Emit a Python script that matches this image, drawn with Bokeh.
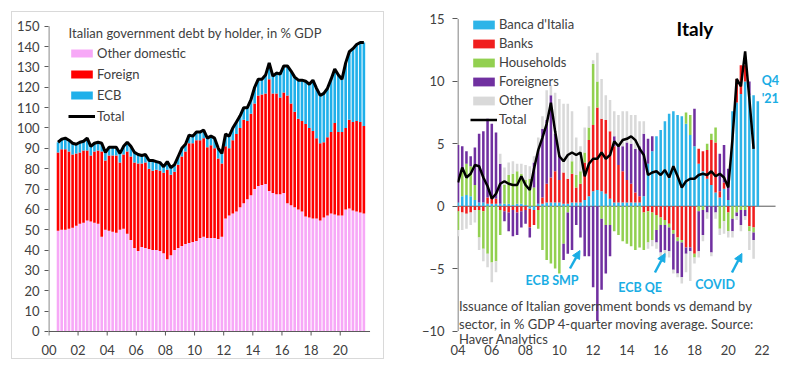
from bokeh.plotting import figure
from bokeh.layouts import row
from bokeh.models import (ColumnDataSource, Legend, LegendItem, Label,
                          Arrow, NormalHead, FixedTicker, Range1d)
from bokeh.embed import file_html
from bokeh.resources import INLINE

FONT = "Lato"
TXT = "#404040"
AX = "#595959"

# ---------------- Left chart data: debt by holder, % GDP (quarterly, 2000Q3..2021Q3)
left_first_quarter = (2000, 3)
other_domestic = [49.5, 50, 50, 50.5, 51, 52, 53, 53.5, 54.5, 54,
                  53.5, 53, 46.5, 50, 49.5, 49, 48.5, 50, 50.5, 48,
                  45, 41, 39.5, 41.5, 41, 40.5, 40, 40, 39.5, 38.5,
                  35.5, 37.5, 40, 41, 42, 43, 43.5, 44, 44.5, 46,
                  46.5, 46, 46, 46, 45.5, 46.5, 55.5, 57, 58, 59,
                  61, 63, 65, 67, 70, 71.5, 72, 72.5, 69, 68,
                  67.5, 67.5, 68, 63, 62, 61, 60, 59, 56.5, 56,
                  55.5, 55.5, 54.5, 56, 57, 58, 57.5, 57, 57, 60,
                  60.5, 59.5, 59, 58.5, 58]
foreign = [38.5, 39.5, 39.5, 38, 36, 35.5, 35, 35.5, 34.5, 32.5,
           35, 36, 42, 34, 37, 37.5, 38, 33, 36.5, 40.5,
           41, 42, 43, 41, 42, 39.5, 39, 39.5, 39.5, 39.5,
           44, 39.5, 38.5, 41, 44, 45.5, 49, 48.5, 49.5, 48,
           48.5, 44.5, 45.5, 44, 39.5, 36, 35.5, 33, 36, 38,
           39, 41, 38.5, 40, 42, 44.5, 44.5, 44.5, 55, 49,
           49.5, 47.5, 49.5, 53, 50, 47, 44.5, 44.5, 45.5, 44,
           43, 39.5, 38, 37, 38.5, 40, 45, 41, 41, 40,
           43.5, 43.5, 44.5, 44.5, 43]
ecb = [5, 5, 5.5, 5.5, 5.5, 4.5, 5, 4.5, 6, 4.5,
       4, 4, 4, 4, 4, 4, 4, 4.5, 4, 4.5,
       5, 5, 4.5, 4, 4, 4, 5, 4, 4, 3,
       4, 3.5, 3.5, 4, 4, 3.5, 4, 3.5, 4, 4,
       4, 4.5, 4.5, 5, 5, 5, 6, 6, 6, 6,
       6, 6, 6.5, 7, 8, 8, 7.5, 9, 8, 8.5,
       10, 11.5, 13, 14.5, 16, 17, 19, 20, 21, 21.5,
       25, 24.5, 23.5, 24, 24, 26, 26.5, 28, 26, 32,
       33.5, 36, 37.5, 39, 41]
left_xticks = list(range(0, 21, 2))
left_yticks = list(range(0, 151, 10))

# ---------------- Right chart data: issuance vs demand by sector (2004Q1..2021Q4)
right_first_quarter = (2004, 1)
banca_italia = [0.3, 0.8, 0.9, 0.8, 0.5, 0.3, 0.3, 0.2, 0.2, 0.2,
                0.2, 0.2, 0.2, 0.1, 0.2, 0.2, 0.1, -0.2, -0.3, 0.2,
                0.2, 0.3, 0.3, 0.3, 0.3, 0.2, 0.2, 0.3, 0.3, 0.3,
                0.5, 0.8, 1.2, 1.3, 1.2, 1.0, 0.6, 0.3, 0.3, 0.3,
                0.3, 0.3, 0.3, 0.3, 0.8, 3.4, 4.4, 5.6, 6.1, 6.8,
                7.4, 7.6, 7.3, 7.2, 6.6, 5.7, 4.8, 3.4, 2.8, 2.2,
                1.7, 1.1, 0.7, 1.4, 0.5, 7.6, 8.3, 9.0, 10.0, 8.9,
                8.9, 8.4]
banks = [-0.4, -0.5, -0.6, -0.5, -0.3, -0.3, -0.4, 0.5, 0.6, 0.4,
         -0.3, -0.4, -0.5, -0.3, -0.5, -0.4, -0.3, -1.5, -1.2, -0.3,
         0.5, 1.5, 2.0, 2.5, 1.8, 2.5, 2.0, 2.3, 1.2, 1.5,
         3.0, 4.5, 5.3, 6.6, 5.8, 5.9, 5.4, 4.5, 3.0, 2.5,
         1.8, 1.5, 0.8, 0.5, -0.5, -0.4, -0.5, -0.7, -0.9, -1.1,
         -1.4, -1.9, -2.5, -2.7, -3.3, -3.3, -3.8, 1.2, 1.6, 2.3,
         3.6, 4.0, 0.5, 0.5, -0.5, 0.0, 1.9, 2.3, 1.3, -1.6,
         -1.7, 0.0]
households = [-1.5, 2.0, 2.5, 2.4, 1.2, -2.2, -3.0, -3.8, -4.5, -4.4,
              -2.0, 1.5, 2.3, 2.5, 2.6, 2.4, 2.0, 2.2, 1.5, -1.5,
              -3.5, -4.3, -4.6, -5.0, -5.4, -3.0, -0.5, 1.0, 1.0, 1.0,
              0.8, 1.0, 4.9, 2.1, -1.0, -1.5, -1.5, -2.0, -2.3, -2.8,
              -3.0, -3.2, -3.5, -3.3, -3.0, -2.5, -2.2, -1.2, -0.6, -0.4,
              -0.3, -0.3, -0.3, -0.2, 0.9, 1.6, -0.3, -0.4, -0.3, 0.5,
              0.5, 1.2, -1.8, -1.2, -1.5, -1.0, -0.5, -0.3, -0.3, -0.4,
              -0.4, 0.0]
foreigners = [4.6, 2.0, 1.0, 0.8, 3.0, 5.5, 5.7, 6.3, 5.8, 5.3,
              3.2, -0.8, -1.5, -2.1, -1.8, -1.3, -1.1, -0.8, 2.0, 4.3,
              5.5, 5.1, 6.6, 3.0, 2.0, -1.3, -3.3, -3.5, -1.5, -2.5,
              -4.0, -4.0, -6.5, -9.2, -5.7, -3.9, -2.5, 0.8, 1.5, 2.0,
              3.0, 3.2, 3.5, 4.0, 5.0, 2.0, 1.2, -1.0, -2.2, -2.0,
              -1.9, -2.9, -2.6, -2.8, -0.5, -0.3, 3.0, -3.2, -2.0, -0.5,
              -3.7, -0.5, 3.0, 3.0, 2.5, -1.0, -0.3, -1.2, -0.5, 1.1,
              -0.6, 0.0]
other = [-0.5, -1.4, -1.2, -1.0, -1.0, -1.0, -1.0, -1.1, -1.6, -0.9,
         0.8, 1.4, 1.0, 1.0, 0.6, 0.8, 1.2, 1.0, 0.5, 1.0,
         1.0, 2.4, 0.8, 3.3, 4.5, 5.5, 6.0, 4.0, 3.0, 2.0,
         2.0, 1.7, 0.3, 2.3, 3.2, 2.0, 2.5, 2.0, 2.5, 2.8,
         2.5, 2.3, 2.7, 2.0, 1.0, -0.5, -0.5, -0.5, -0.5, -0.6,
         -0.5, -0.3, -0.3, -0.5, -1.5, -2.4, -0.5, -0.5, -0.5, -0.5,
         -0.3, -0.5, -0.5, -1.0, -0.5, -0.5, -0.3, -0.5, -0.3, -1.5,
         -1.5, 0.0]
total_issuance = [1.9, 3.1, 2.3, 2.6, 3.3, 3.2, 2.3, 1.6, 0.6, 1.0,
                  1.8, 2.0, 1.8, 1.7, 1.7, 2.4, 1.7, 1.3, 3.0, 4.5,
                  5.5, 6.6, 8.3, 6.0, 4.0, 3.6, 4.1, 4.3, 4.1, 4.3,
                  2.4, 3.4, 3.8, 3.8, 4.3, 3.8, 4.1, 5.2, 4.8, 5.3,
                  5.4, 5.6, 5.3, 4.6, 4.1, 2.5, 2.7, 2.8, 2.5, 2.9,
                  2.3, 3.2, 2.4, 1.5, 2.0, 2.2, 2.2, 2.5, 2.6, 2.5,
                  2.8, 2.4, 2.6, 2.3, 1.5, 5.4, 10.2, 9.6, 12.4, 8.6,
                  4.6, float("nan")]
right_xticks = list(range(4, 23, 2))
right_yticks = [-10, -5, 0, 5, 10, 15]

# ---------------- colours
PINK, RED, BLUE = "#F7A8F7", "#FF0000", "#1FB0EA"
R_BLUE, R_RED, R_GREEN, R_PURPLE, R_GREY = "#2DB4E8", "#F01E1E", "#92D050", "#7030A0", "#D9D9D9"
ANN = "#1AADE4"

H = 370            # both figures share the same height and border sizes
TOP, BOTTOM = 17, 26


def quarter_positions(first, n, offset):
    y, q = first
    out = []
    for _ in range(n):
        out.append((y - 2000) + (q - offset) / 4.0)
        q += 1
        if q > 4:
            q, y = 1, y + 1
    return out


def style_axes(p):
    for ax in (p.xaxis[0], p.yaxis[0]):
        ax.axis_line_color = None
        ax.major_tick_line_color = AX
        ax.minor_tick_line_color = None
        ax.major_tick_in = 0
        ax.major_label_text_font = FONT
        ax.major_label_text_font_size = "13px"
        ax.major_label_text_color = TXT
    p.xaxis.major_tick_line_color = None
    p.xaxis.major_tick_out = 0
    p.xaxis.major_label_standoff = 0
    p.xgrid.visible = False
    p.ygrid.visible = False
    p.outline_line_color = None
    p.background_fill_alpha = 0
    p.border_fill_alpha = 0


# ================= LEFT
lx = quarter_positions(left_first_quarter, len(other_domestic), 0.5)
ltotal = [a + b + c for a, b, c in zip(other_domestic, foreign, ecb)]
lsrc = ColumnDataSource(dict(x=lx, other=other_domestic, foreign=foreign, ecb=ecb, total=ltotal))

p1 = figure(width=395, height=H, x_range=Range1d(-0.03, 22.08), y_range=Range1d(-6.39, 154.3),
            output_backend="svg", toolbar_location=None,
            min_border_left=48, min_border_right=25, min_border_top=TOP, min_border_bottom=BOTTOM)
p1.styles = {"outline": "1px solid #D9D9D9", "outline-offset": "-12px"}
style_axes(p1)
p1.xaxis.ticker = FixedTicker(ticks=left_xticks)
p1.xaxis.major_label_overrides = {t: f"{t:02d}" for t in left_xticks}
p1.yaxis.ticker = FixedTicker(ticks=left_yticks)
p1.yaxis.major_tick_out = 4
p1.yaxis.major_label_standoff = 5

rs = p1.vbar_stack(["other", "foreign", "ecb"], x="x", width=0.18, color=[PINK, RED, BLUE],
                   line_color=None, source=lsrc)
rl = p1.line("x", "total", source=lsrc, line_color="black", line_width=3)
# axis lines (y: 0..150 ; x along zero) and x tick marks
p1.segment(x0=[0, 0], y0=[0, 0], x1=[0, 22.05], y1=[150, 0], line_color=AX, line_width=1)
p1.segment(x0=left_xticks, y0=[0] * len(left_xticks), x1=left_xticks,
           y1=[-1.97] * len(left_xticks), line_color=AX, line_width=1)

p1.add_layout(Label(x=1.35, y=146.9, text="Italian government debt by holder, in % GDP",
                    text_font=FONT, text_font_size="13px", text_color=TXT,
                    text_baseline="middle"))
leg1 = Legend(items=[LegendItem(label="Other domestic", renderers=[rs[0]]),
                     LegendItem(label="Foreign", renderers=[rs[1]]),
                     LegendItem(label="ECB", renderers=[rs[2]]),
                     LegendItem(label="Total", renderers=[rl])],
              location=(20, 220), background_fill_alpha=0, border_line_color=None,
              label_text_font=FONT, label_text_font_size="13px", label_text_color=TXT,
              glyph_width=27, glyph_height=10, label_height=15, spacing=5,
              padding=0, margin=0, label_standoff=2)
p1.add_layout(leg1)

# ================= RIGHT
rx = quarter_positions(right_first_quarter, len(banca_italia), 1.0)
series = [("bdi", banca_italia), ("banks", banks), ("hh", households),
          ("forn", foreigners), ("oth", other)]
cols = dict(x=rx, total=total_issuance)
pos = [0.0] * len(rx)
neg = [0.0] * len(rx)
for name, vals in series:
    b, t = [], []
    for j, v in enumerate(vals):
        if v >= 0:
            b.append(pos[j]); t.append(pos[j] + v); pos[j] += v
        else:
            t.append(neg[j]); b.append(neg[j] + v); neg[j] += v
    cols[name + "_b"] = b
    cols[name + "_t"] = t
rsrc = ColumnDataSource(cols)

p2 = figure(width=405, height=H, x_range=Range1d(3.97, 23.33), y_range=Range1d(-11.08, 15.12),
            output_backend="svg", toolbar_location=None,
            min_border_left=62, min_border_right=16, min_border_top=TOP, min_border_bottom=BOTTOM)
style_axes(p2)
p2.xaxis.ticker = FixedTicker(ticks=right_xticks)
p2.xaxis.major_label_overrides = {t: f"{t:02d}" for t in right_xticks}
p2.yaxis.ticker = FixedTicker(ticks=right_yticks)
p2.yaxis.major_tick_out = 5
p2.yaxis.major_label_standoff = 8
p2.segment(x0=[4, 3.97], y0=[-10, 0], x1=[4, 22.8], y1=[15, 0], line_color=AX, line_width=1)

colors = [R_BLUE, R_RED, R_GREEN, R_PURPLE, R_GREY]
rr = []
for (name, _), c in zip(series, colors):
    rr.append(p2.vbar(x="x", bottom=name + "_b", top=name + "_t", width=0.15,
                      fill_color=c, line_color=None, source=rsrc))
rt = p2.line("x", "total", source=rsrc, line_color="black", line_width=2.5)

leg2 = Legend(items=[LegendItem(label="Banca d'Italia", renderers=[rr[0]]),
                     LegendItem(label="Banks", renderers=[rr[1]]),
                     LegendItem(label="Households", renderers=[rr[2]]),
                     LegendItem(label="Foreigners", renderers=[rr[3]]),
                     LegendItem(label="Other", renderers=[rr[4]]),
                     LegendItem(label="Total", renderers=[rt])],
              location=(13, 217), background_fill_alpha=0, border_line_color=None,
              label_text_font=FONT, label_text_font_size="13px", label_text_color=TXT,
              glyph_width=27, glyph_height=11, label_height=14, spacing=3,
              padding=0, margin=0, label_standoff=2)
p2.add_layout(leg2)

p2.add_layout(Label(x=18.03, y=14.24, text="Italy", text_font=FONT, text_font_size="19px",
                    text_font_style="bold", text_color="black", text_align="center",
                    text_baseline="middle"))
for txt, yy in (("Q4", 10.07), ("'21", 8.63)):
    p2.add_layout(Label(x=21.98, y=yy, text=txt, text_font=FONT, text_font_size="12.5px",
                        text_font_style="bold", text_color=ANN, text_baseline="middle"))
for txt, xx, yy in (("ECB SMP", 9.57, -5.96), ("ECB QE", 14.78, -6.5), ("COVID", 19.22, -6.27)):
    p2.add_layout(Label(x=xx, y=yy, text=txt, text_font=FONT, text_font_size="12.5px",
                        text_font_style="bold", text_color=ANN, text_align="center",
                        text_baseline="middle"))
for xs, ys, xe, ye in ((10.63, -4.99, 11.22, -3.55), (15.66, -5.31, 16.26, -3.79),
                       (20.22, -5.31, 20.81, -3.79)):
    p2.add_layout(Arrow(end=NormalHead(size=8, fill_color=ANN, line_color=ANN),
                        x_start=xs, y_start=ys, x_end=xe, y_end=ye,
                        line_color=ANN, line_width=2.5))
for txt, yy in (("Issuance of Italian government bonds vs demand by", -7.96),
                ("sector, in % GDP 4-quarter moving average. Source:", -9.4),
                ("Haver Analytics", -10.65)):
    p2.add_layout(Label(x=4.06, y=yy, text=txt, text_font=FONT, text_font_size="13px",
                        text_color=TXT, text_baseline="middle"))

layout = row(p1, p2)
open("out.html", "w").write(file_html(layout, INLINE))
